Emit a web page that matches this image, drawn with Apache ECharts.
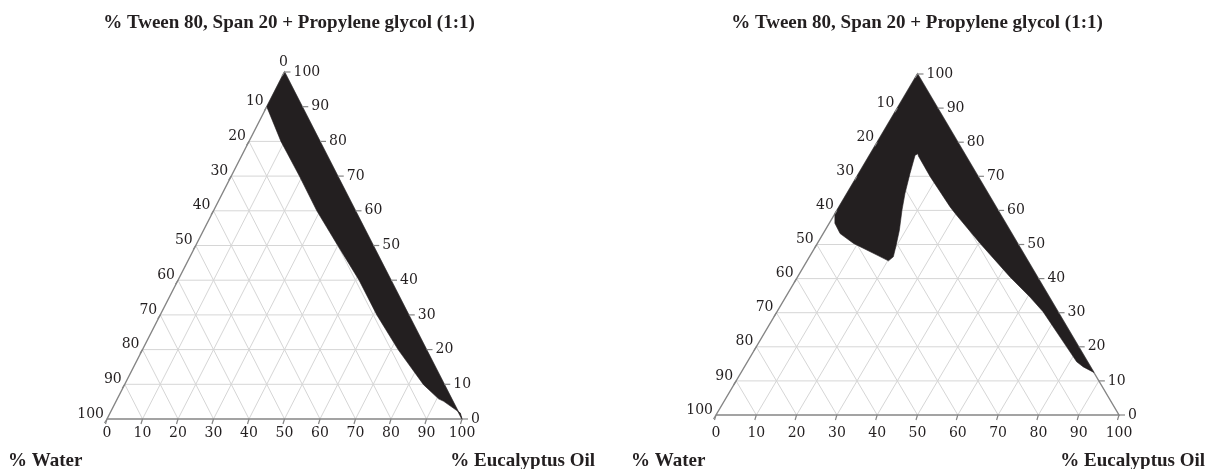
<!DOCTYPE html>
<html>
<head>
<meta charset="utf-8">
<script src="https://cdn.jsdelivr.net/npm/echarts@6/dist/echarts.min.js"></script>
<style>
html,body{margin:0;padding:0;background:#ffffff;}
#chart{width:1220px;height:469px;}
</style>
</head>
<body>
<div id="chart"></div>
<script>
// ---------- data ----------
const titleText = '% Tween 80, Span 20 + Propylene glycol (1:1)';
const waterAxisName = '% Water';
const oilAxisName = '% Eucalyptus Oil';

const tickValues = [0, 10, 20, 30, 40, 50, 60, 70, 80, 90, 100];
const gridLevels = [10, 20, 30, 40, 50, 60, 70, 80, 90];

const oilTickLabels = ['0', '10', '20', '30', '40', '50', '60', '70', '80', '90', '100'];
const surfactantTickLabels = ['0', '10', '20', '30', '40', '50', '60', '70', '80', '90', '100'];
const waterTickLabelsA = ['0', '10', '20', '30', '40', '50', '60', '70', '80', '90', '100'];
const waterTickLabelsB = ['', '10', '20', '30', '40', '50', '60', '70', '80', '90', '100'];

// Region boundaries (ternary: % oil and % surfactant mix; water = 100 - oil - surfactant)
const regionAOil =        [0,   0,  9,  19.2, 29.1, 40, 51, 61, 72, 84.2, 90.5, 92.3, 98.7, 100];
const regionASurfactant = [100, 90, 80, 70,   60,   50, 40, 30, 20, 9.9,  5.8,  5.1,  1.7,  0];

const regionBOil =        [0,   0,  1.4,  4.2,  9.0,  16.5, 20.2, 20.8, 19.8, 18.4, 16.1, 14.4, 12.7, 11.3, 11.8, 12.3, 18.2, 27.5, 29.8, 40.4, 52.7, 60.6, 66.0, 77.0, 81.7, 84.1, 87.5];
const regionBSurfactant = [100, 59, 56.2, 53.2, 50.3, 46.9, 45.2, 46.4, 49.8, 54.2, 60.1, 65.0, 70.9, 76.2, 76.6, 75.9, 69.9, 61.1, 59.1, 50.3, 40.5, 34.6, 30.3, 20.0, 15.6, 14.1, 12.5];

// ---------- layout ----------
const panels = [
  {left: 107, top: 72, width: 355, height: 347, titleX: 289, waterX: 8, oilX: 595, bottomLabelY: 433,
   waterLabels: waterTickLabelsA, oil: regionAOil, surf: regionASurfactant},
  {left: 716, top: 74, width: 403, height: 341, titleX: 917, waterX: 631, oilX: 1205, bottomLabelY: 433,
   waterLabels: waterTickLabelsB, oil: regionBOil, surf: regionBSurfactant}
];

const INK = '#231f20';
const FRAME = '#858585';
const GRIDC = '#d6d6d6';
const TICK_FONT = '14px "DejaVu Serif", serif';
const BOLD_FONT = 'bold 19px "Liberation Serif", serif';

function toXY(o, s) { return [o + s / 2, s]; }

function lineEl(a, b, color, w) {
  return {type: 'line', shape: {x1: a[0], y1: a[1], x2: b[0], y2: b[1]},
          style: {stroke: color, lineWidth: w}};
}

function gridRender(params, api) {
  const v = api.value(0);
  const c = (o, s) => api.coord(toXY(o, s));
  return {type: 'group', children: [
    lineEl(c(0, v), c(100 - v, v), GRIDC, 1),
    lineEl(c(v, 0), c(v, 100 - v), GRIDC, 1),
    lineEl(c(100 - v, 0), c(0, 100 - v), GRIDC, 1)
  ]};
}

function frameRender(params, api) {
  const c = (o, s) => api.coord(toXY(o, s));
  return {type: 'polygon', shape: {points: [c(0, 0), c(100, 0), c(0, 100)]},
          style: {fill: 'none', stroke: FRAME, lineWidth: 1.4}};
}

function regionRender(p) {
  return function (params, api) {
    const pts = p.oil.map((o, i) => api.coord(toXY(o, p.surf[i])));
    return {type: 'polygon', shape: {points: pts},
            style: {fill: INK, stroke: INK, lineWidth: 0.6}};
  };
}

function textEl(txt, x, y, align, valign) {
  return {type: 'text', x: x, y: y,
          style: {text: txt, font: TICK_FONT, fill: INK, align: align, verticalAlign: valign,
                  textAlign: align, textVerticalAlign: valign}};
}

function tickRender(p) {
  return function (params, api) {
    const i = params.dataIndex;
    const v = tickValues[i];
    const c = (o, s) => api.coord(toXY(o, s));
    const b = c(v, 0);          // bottom axis: oil
    const r = c(100 - v, v);    // right axis: surfactant
    const l = c(0, 100 - v);    // left axis: water
    const children = [
      lineEl(b, [b[0] - 1.5, b[1] + 5], FRAME, 1.2),
      textEl(oilTickLabels[i], b[0], p.bottomLabelY, 'center', 'middle'),
      lineEl(r, [r[0] + 6, r[1]], FRAME, 1.2),
      textEl(surfactantTickLabels[(v / 10)], r[0] + 9, r[1], 'left', 'middle'),
      lineEl(l, [l[0] - 2.5, l[1] + 4], FRAME, 1.2)
    ];
    const wl = p.waterLabels[i];
    if (wl !== '') {
      if (v === 0) {
        children.push(textEl(wl, l[0] - 1, l[1] - 3, 'center', 'bottom'));
      } else {
        children.push(textEl(wl, l[0] - 3, l[1] + 2, 'right', 'bottom'));
      }
    }
    return {type: 'group', children: children};
  };
}

const grids = [], xAxes = [], yAxes = [], series = [], graphics = [];
panels.forEach((p, k) => {
  grids.push({left: p.left, top: p.top, width: p.width, height: p.height});
  xAxes.push({gridIndex: k, type: 'value', min: 0, max: 100, show: false});
  yAxes.push({gridIndex: k, type: 'value', min: 0, max: 100, show: false});
  series.push({type: 'custom', coordinateSystem: 'cartesian2d', xAxisIndex: k, yAxisIndex: k,
               z: 1, silent: true, clip: false, renderItem: gridRender,
               data: gridLevels.map(v => [v, 0])});
  series.push({type: 'custom', coordinateSystem: 'cartesian2d', xAxisIndex: k, yAxisIndex: k,
               z: 2, silent: true, clip: false, renderItem: frameRender, data: [[0, 0]]});
  series.push({type: 'custom', coordinateSystem: 'cartesian2d', xAxisIndex: k, yAxisIndex: k,
               z: 3, silent: true, clip: false, renderItem: regionRender(p), data: [[0, 0]]});
  series.push({type: 'custom', coordinateSystem: 'cartesian2d', xAxisIndex: k, yAxisIndex: k,
               z: 4, silent: true, clip: false, renderItem: tickRender(p),
               data: tickValues.map(v => [v, 0])});
  graphics.push({type: 'text', x: p.titleX, y: 23,
                 style: {text: titleText, font: BOLD_FONT, fill: INK, textAlign: 'center', textVerticalAlign: 'middle'}});
  graphics.push({type: 'text', x: p.waterX, y: 461,
                 style: {text: waterAxisName, font: BOLD_FONT, fill: INK, textAlign: 'left', textVerticalAlign: 'middle'}});
  graphics.push({type: 'text', x: p.oilX, y: 461,
                 style: {text: oilAxisName, font: BOLD_FONT, fill: INK, textAlign: 'right', textVerticalAlign: 'middle'}});
});

const chart = echarts.init(document.getElementById('chart'), null, {renderer: 'canvas'});
chart.setOption({
  backgroundColor: '#ffffff',
  animation: false,
  grid: grids,
  xAxis: xAxes,
  yAxis: yAxes,
  series: series,
  graphic: graphics
});
</script>
</body>
</html>
